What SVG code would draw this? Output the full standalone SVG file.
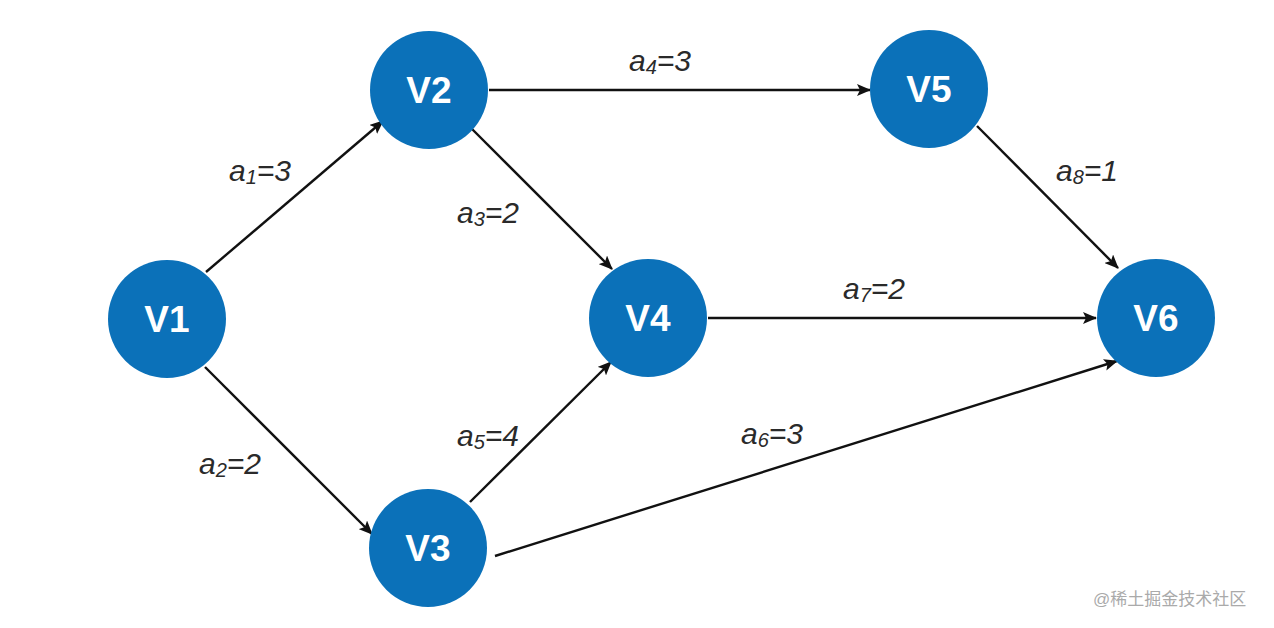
<svg xmlns="http://www.w3.org/2000/svg" width="1274" height="628" viewBox="0 0 1274 628">
<defs>
<marker id="arr" viewBox="0 0 14 12" refX="13" refY="6" markerWidth="14" markerHeight="12" markerUnits="userSpaceOnUse" orient="auto">
<path d="M0,0 L14,6 L0,12 L3,6 Z" fill="#111"/>
</marker>
<style>
.node circle{fill:#0b71b9;}
.node text{fill:#fff;font-family:"Liberation Sans",Arial,sans-serif;font-weight:bold;font-size:37px;text-anchor:middle;dominant-baseline:central;}
.edge line{stroke:#111;stroke-width:2.4;marker-end:url(#arr);}
.lbl{font-family:"Liberation Sans",Arial,sans-serif;font-style:italic;font-size:30px;fill:#2a2a2a;}
.sub{font-size:20px;}
.wm{font-family:"Liberation Sans","Noto Sans CJK SC",sans-serif;font-size:17px;fill:#aaa;}
</style>
</defs>
<rect width="1274" height="628" fill="#fff"/>
<g id="connectors" class="edge">
<line x1="206" y1="272" x2="383" y2="121"/>
<line x1="205" y1="367" x2="372" y2="534"/>
<line x1="471" y1="128" x2="612" y2="269"/>
<line x1="489" y1="90" x2="870" y2="90"/>
<line x1="470" y1="502" x2="611" y2="362"/>
<line x1="495" y1="556" x2="1117" y2="361"/>
<line x1="708" y1="318" x2="1096" y2="318"/>
<line x1="977" y1="126" x2="1118" y2="268"/>
</g>
<g id="labels" class="lbl">
<text x="229" y="181">a<tspan class="sub" dy="3">1</tspan><tspan dy="-3">=3</tspan></text>
<text x="199" y="474">a<tspan class="sub" dy="3">2</tspan><tspan dy="-3">=2</tspan></text>
<text x="457" y="223">a<tspan class="sub" dy="3">3</tspan><tspan dy="-3">=2</tspan></text>
<text x="629" y="71">a<tspan class="sub" dy="3">4</tspan><tspan dy="-3">=3</tspan></text>
<text x="457" y="446">a<tspan class="sub" dy="3">5</tspan><tspan dy="-3">=4</tspan></text>
<text x="741" y="444">a<tspan class="sub" dy="3">6</tspan><tspan dy="-3">=3</tspan></text>
<text x="843" y="299">a<tspan class="sub" dy="3">7</tspan><tspan dy="-3">=2</tspan></text>
<text x="1056" y="181">a<tspan class="sub" dy="3">8</tspan><tspan dy="-3">=1</tspan></text>
</g>
<g id="V1" class="node"><circle cx="167" cy="319" r="59"/><text x="167" y="319">V1</text></g>
<g id="V2" class="node"><circle cx="429" cy="90" r="59"/><text x="429" y="90">V2</text></g>
<g id="V3" class="node"><circle cx="428" cy="548" r="59"/><text x="428" y="548">V3</text></g>
<g id="V4" class="node"><circle cx="648" cy="318" r="59"/><text x="648" y="318">V4</text></g>
<g id="V5" class="node"><circle cx="929" cy="89" r="59"/><text x="929" y="89">V5</text></g>
<g id="V6" class="node"><circle cx="1156" cy="318" r="59"/><text x="1156" y="318">V6</text></g>
<text class="wm" x="1093" y="605">@稀土掘金技术社区</text>
</svg>
